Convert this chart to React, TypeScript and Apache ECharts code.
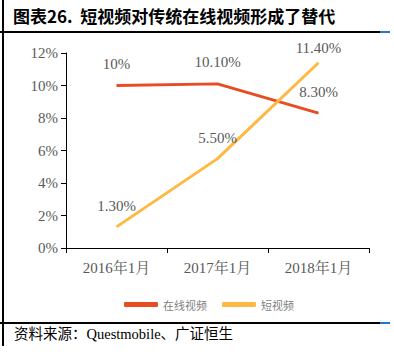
import React, { useEffect, useRef } from "react";
import * as echarts from "echarts";

const categories = ["2016年1月", "2017年1月", "2018年1月"];
const onlineVideo = [10, 10.1, 8.3];
const shortVideo = [1.3, 5.5, 11.4];
const onlineLabels = ["10%", "10.10%", "8.30%"];
const shortLabels = ["1.30%", "5.50%", "11.40%"];
const seriesNames = ["在线视频", "短视频"];
const title = "图表26.  短视频对传统在线视频形成了替代";
const source = "资料来源：Questmobile、广证恒生";

const serif = "'Liberation Serif', 'Noto Serif CJK SC', 'Noto Sans CJK SC', serif";
const onlineOffsets = [[0, -9], [0, -9], [0, -9]];
const shortOffsets = [[0, -8], [0, -8], [0, -2]];

export default function App() {
  const ref = useRef<HTMLDivElement>(null);
  useEffect(() => {
    const chart = echarts.init(ref.current!, undefined, { renderer: "svg" });
    const mk = (vals: number[], labels: string[], offs: number[][]) =>
      vals.map((v, i) => ({
        value: v,
        label: { formatter: labels[i], offset: offs[i] },
      }));
    const labelStyle = {
      show: true,
      position: "top",
      color: "#595959",
      fontFamily: serif,
      fontSize: 15,
    };
    chart.setOption({
      animation: false,
      grid: { left: 66, right: 25, top: 53, bottom: 111 },
      graphic: [
        { type: "rect", shape: { x: 2, y: 0, width: 2, height: 346 }, style: { fill: "#000" } },
        { type: "rect", shape: { x: 0, y: 31, width: 380, height: 2 }, style: { fill: "#000" } },
        { type: "rect", shape: { x: 380, y: 31, width: 10, height: 2 }, style: { fill: "#1f77d0" } },
        { type: "rect", shape: { x: 0, y: 322, width: 380, height: 2 }, style: { fill: "#000" } },
        { type: "rect", shape: { x: 380, y: 322, width: 10, height: 2 }, style: { fill: "#1f77d0" } },
        {
          type: "text",
          left: 13,
          top: 7,
          style: {
            text: title,
            fill: "#000",
            font: "bold 17px 'Noto Sans CJK SC', sans-serif",
          },
        },
        {
          type: "text",
          left: 14,
          top: 327,
          style: {
            text: source,
            fill: "#000",
            font: "14.5px 'Liberation Serif', 'Noto Sans CJK SC', serif",
          },
        },
      ],
      legend: {
        top: 294,
        left: 119,
        itemWidth: 34,
        itemHeight: 5,
        itemGap: 15,
        itemTextGap: 4,
        icon: "roundRect",
        textStyle: { color: "#7f7f7f", fontSize: 11, fontFamily: "'Noto Sans CJK SC', sans-serif" },
        data: seriesNames,
      },
      xAxis: {
        type: "category",
        data: categories,
        boundaryGap: true,
        axisLine: { lineStyle: { color: "#000", width: 1 } },
        axisTick: { show: true, alignWithLabel: false, length: 5, lineStyle: { color: "#000" } },
        axisLabel: { color: "#595959", fontSize: 15, fontFamily: serif, margin: 12 },
      },
      yAxis: {
        type: "value",
        min: 0,
        max: 12,
        interval: 2,
        axisLine: { show: true, lineStyle: { color: "#000", width: 1 } },
        axisTick: { show: true, length: 5, lineStyle: { color: "#000" } },
        splitLine: { show: false },
        axisLabel: { formatter: "{value}%", color: "#595959", fontSize: 15, fontFamily: serif, margin: 8 },
      },
      series: [
        {
          name: seriesNames[0],
          type: "line",
          data: mk(onlineVideo, onlineLabels, onlineOffsets),
          symbol: "circle",
          symbolSize: 0.1,
          lineStyle: { color: "#E84C22", width: 3 },
          itemStyle: { color: "#E84C22" },
          label: labelStyle,
        },
        {
          name: seriesNames[1],
          type: "line",
          data: mk(shortVideo, shortLabels, shortOffsets),
          symbol: "circle",
          symbolSize: 0.1,
          lineStyle: { color: "#FFB841", width: 3 },
          itemStyle: { color: "#FFB841" },
          label: labelStyle,
        },
      ],
    });
    return () => chart.dispose();
  }, []);
  return (
    <div
      ref={ref}
      style={{ position: "fixed", left: 0, top: 0, width: 394, height: 359, background: "#fff" }}
    />
  );
}
